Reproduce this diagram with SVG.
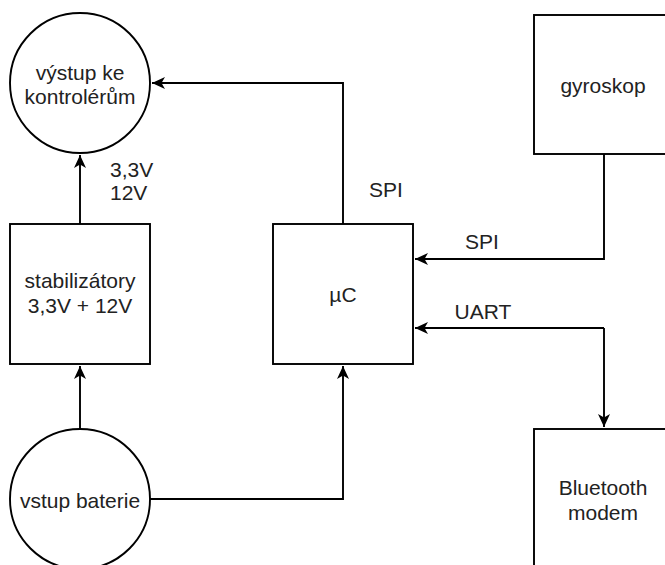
<svg xmlns="http://www.w3.org/2000/svg" width="665" height="565" viewBox="0 0 665 565">
<defs>
<marker id="arr" markerUnits="userSpaceOnUse" markerWidth="14" markerHeight="12" viewBox="0 0 14 12" refX="13" refY="6" orient="auto">
<path d="M0,0 L13,6 L0,12 L3.5,6 Z" fill="#000"/>
</marker>
<style>
.shape{fill:#fff;stroke:#000;stroke-width:1.9}
.edge{fill:none;stroke:#000;stroke-width:1.9}
.t{font-family:"Liberation Sans",Arial,sans-serif;font-size:21px;fill:#222;text-anchor:middle}
.l{font-family:"Liberation Sans",Arial,sans-serif;font-size:21px;fill:#222}
</style>
</defs>
<rect width="665" height="565" fill="#fff"/>
<g id="connectors">
<path class="edge" d="M80,224 L80,155" marker-end="url(#arr)"/>
<path class="edge" d="M80,429 L80,366" marker-end="url(#arr)"/>
<path class="edge" d="M150,499 L343,499 L343,366" marker-end="url(#arr)"/>
<path class="edge" d="M343,224 L343,83 L152,83" marker-end="url(#arr)"/>
<path class="edge" d="M604,154 L604,259 L415,259" marker-end="url(#arr)"/>
<path class="edge" d="M604,328 L415,328" marker-end="url(#arr)"/>
<path class="edge" d="M604,328 L604,427" marker-end="url(#arr)"/>
<text class="l" x="110" y="177">3,3V</text>
<text class="l" x="110" y="200">12V</text>
<text class="t" x="386" y="197">SPI</text>
<text class="t" x="482" y="249">SPI</text>
<text class="t" x="483" y="319">UART</text>
</g>
<g id="vystup">
<circle class="shape" cx="80" cy="83" r="70"/>
<text class="t" x="80" y="80">výstup ke</text>
<text class="t" x="80" y="104">kontrolérům</text>
</g>
<g id="stabilizatory">
<rect class="shape" x="10" y="224" width="140" height="140"/>
<text class="t" x="80" y="288">stabilizátory</text>
<text class="t" x="80" y="313">3,3V + 12V</text>
</g>
<g id="uc">
<rect class="shape" x="273" y="224" width="140" height="140"/>
<text class="t" x="343" y="302">µC</text>
</g>
<g id="gyroskop">
<rect class="shape" x="534" y="15" width="140" height="139"/>
<text class="t" x="603" y="93">gyroskop</text>
</g>
<g id="bluetooth">
<rect class="shape" x="534" y="429" width="140" height="140"/>
<text class="t" x="603" y="495">Bluetooth</text>
<text class="t" x="603" y="520">modem</text>
</g>
<g id="baterie">
<circle class="shape" cx="80" cy="499" r="70"/>
<text class="t" x="80" y="508">vstup baterie</text>
</g>
</svg>
